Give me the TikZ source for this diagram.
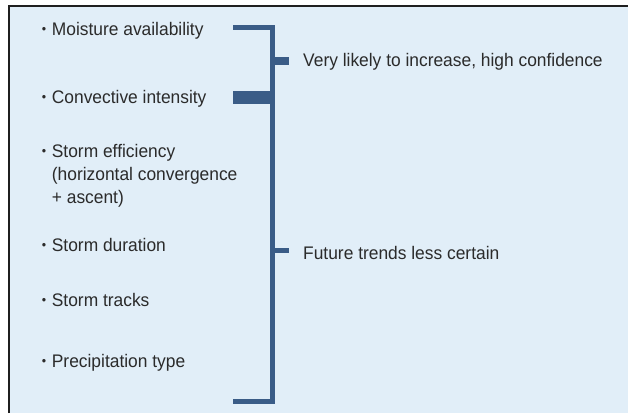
\documentclass[tikz,border=0pt]{standalone}
\usepackage{fontspec}
\setmainfont{Liberation Sans}[FakeStretch=0.955]
\usepackage{xcolor}
\usepackage{tikz}
\usetikzlibrary{positioning}
\definecolor{panelblue}{HTML}{E1EEF8}
\definecolor{bracketblue}{HTML}{3A5C87}
\definecolor{inkgray}{HTML}{2B2B2B}
\newcommand{\bul}{\llap{\raisebox{2pt}{\fontsize{13}{13}\selectfont •}\hspace{5.8pt}}}

\begin{document}
\begin{tikzpicture}[x=1pt,y=-1pt,
  every node/.style={font=\fontsize{18.2}{23}\selectfont,text=inkgray,inner sep=0pt,anchor=base west},
  itm/.style={align=left},
  arm/.style={draw=bracketblue,line width=5pt},
  tick/.style={arm,line width=#1}]
 \useasboundingbox (0,0) rectangle (628,413);
 \fill[panelblue] (9,6) rectangle (628,413);
 \draw[line width=1.8pt,draw=black!88] (9.2,413) -- (9.2,6) -- (628,6);
 % items (multi-line node sits on its last line)
 \node[itm] (m) at (51.7,35.7) {\bul Moisture availability};
 \node[itm] (c) at (51.7,103) {\bul Convective intensity};
 \node[itm] (se) at (51.7,203) {\bul Storm efficiency\\(horizontal convergence\\+ ascent)};
 \node[itm] (sd) at (51.7,251.7) {\bul Storm duration};
 \node[itm] (st) at (51.7,306) {\bul Storm tracks};
 \node[itm] (pt) at (51.7,367.3) {\bul Precipitation type};
 % outcomes
 \node (vl) at (303,66.7) {Very likely to increase, high confidence};
 \node (ft) at (303,259.2) {Future trends less certain};
 % bracket
 \coordinate (top) at (233,27.6); \coordinate (sp) at (272.5,0); \coordinate (bot) at (233,401.5);
 \coordinate (cv) at (233,97.7); \coordinate (vlt) at (289,61.2); \coordinate (ftt) at (289,250.8);
 \draw[arm,miter limit=10] (top) -- (top -| sp) -- (bot -| sp) -- (bot);
 \draw[tick=13.3pt] (cv) -- (cv -| sp);
 \draw[tick=7.6pt] (vlt -| sp) -- (vlt);
 \draw[tick=5pt] (ftt -| sp) -- (ftt);
\end{tikzpicture}
\end{document}
